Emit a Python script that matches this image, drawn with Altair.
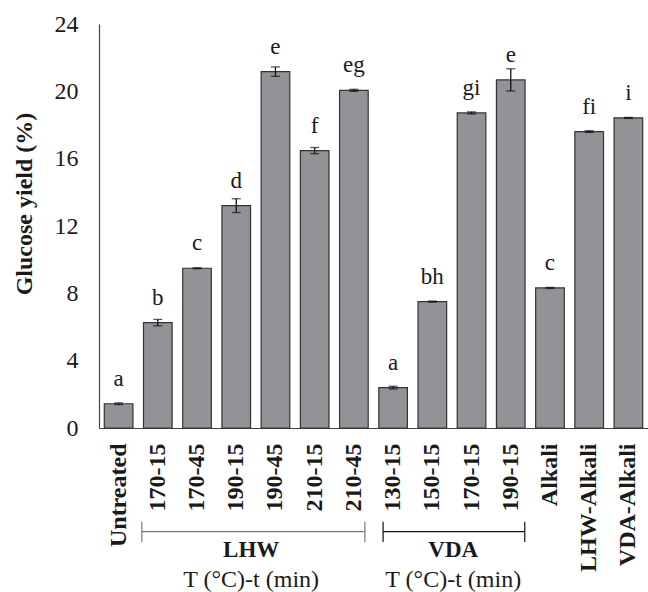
import altair as alt
import pandas as pd

# ---- data ----
groups = ["", "LHW", "LHW", "LHW", "LHW", "LHW", "LHW", "VDA", "VDA", "VDA", "VDA", "", "", ""]
conditions = ["Untreated", "170-15", "170-45", "190-15", "190-45", "210-15", "210-45",
              "130-15", "150-15", "170-15", "190-15", "Alkali", "LHW-Alkali", "VDA-Alkali"]
yields = [1.44, 6.26, 9.49, 13.21, 21.17, 16.48, 20.06, 2.40, 7.51, 18.72, 20.68, 8.32, 17.61, 18.42]
errors = [0.05, 0.19, 0.03, 0.41, 0.28, 0.18, 0.06, 0.08, 0.03, 0.06, 0.66, 0.03, 0.05, 0.03]
letters = ["a", "b", "c", "d", "e", "f", "eg", "a", "bh", "gi", "e", "c", "fi", "i"]
y_ticks = [0, 4, 8, 12, 16, 20, 24]

bracket_names = ["LHW", "VDA"]
bracket_first = ["LHW|170-15", "VDA|130-15"]
bracket_last = ["LHW|210-45", "VDA|190-15"]
bracket_mid = ["LHW|190-45", "VDA|170-15"]
bracket_sub = ["T (°C)-t (min)", "T (°C)-t (min)"]

keys = [f"{g}|{c}" for g, c in zip(groups, conditions)]
df = pd.DataFrame({"key": keys, "yield": yields, "err": errors, "letter": letters})
br = pd.DataFrame({"name": bracket_names, "first": bracket_first, "last": bracket_last,
                   "mid": bracket_mid, "sub": bracket_sub})

# ---- styles ----
FONT = "Liberation Serif"
INK = "#1a1a1a"
bracket_style = {
    "LHW": {"left": -16, "right": 11, "dx": -10, "color": "#7a7a7a"},
    "VDA": {"left": -10, "right": 14, "dx": -4, "color": "#111111"},
}

xscale = alt.Scale(domain=keys, paddingInner=0.27, paddingOuter=0.135)
xaxis = alt.Axis(title=None, labelExpr="split(datum.value, '|')[1]", labelAngle=270,
                 labelAlign="right", labelBaseline="middle", labelPadding=15,
                 labelFont=FONT, labelFontSize=24, labelFontWeight="bold", labelColor=INK,
                 ticks=False, tickSize=0, domainColor="#444444", domainWidth=1.2)
yscale = alt.Scale(domain=[0, 24], nice=False)
yaxis = alt.Axis(values=y_ticks, grid=False, ticks=False, tickSize=0, labelPadding=21,
                 labelFont=FONT, labelFontSize=24, labelColor=INK,
                 domainColor="#444444", domainWidth=1.2,
                 title="Glucose yield (%)", titleFont=FONT, titleFontSize=24,
                 titleFontWeight="bold", titleColor=INK, titleAngle=270,
                 titleAlign="center", titleBaseline="alphabetic", titleX=-68, titleY=179.5)


def xenc(field, **kw):
    return alt.X(f"{field}:N", sort=keys, scale=xscale, axis=xaxis, **kw)


def yenc(field):
    return alt.Y(f"{field}:Q", scale=yscale, axis=yaxis)


base = alt.Chart(df)

bars = base.mark_bar(fill="#929397", stroke="#333333", strokeWidth=1.2).encode(
    x=xenc("key"), y=yenc("yield"))

err = base.transform_calculate(
    lo="datum.yield - datum.err", hi="datum.yield + datum.err"
).mark_rule(color="#111111", strokeWidth=1.3).encode(
    x=xenc("key"), y=yenc("lo"), y2="hi:Q")

caps = base.transform_calculate(
    lo="datum.yield - datum.err", hi="datum.yield + datum.err"
).transform_fold(["lo", "hi"], as_=["end", "val"]).mark_tick(
    color="#111111", size=9, thickness=1.3).encode(x=xenc("key"), y=yenc("val"))

text = base.mark_text(font=FONT, fontSize=23, baseline="alphabetic", dy=-18, color=INK).encode(
    x=xenc("key"), y=yenc("yield"), text="letter:N")

layers = [bars, err, caps, text]

for name in bracket_names:
    st = bracket_style[name]
    b = alt.Chart(br).transform_filter(alt.datum.name == name)
    layers.append(b.mark_rule(color=st["color"], strokeWidth=1.2,
                              xOffset=st["left"], x2Offset=st["right"]).encode(
        x=xenc("first"), x2="last:N", y=alt.value(507.7)))
    layers.append(b.mark_rule(color=st["color"], strokeWidth=1.2, xOffset=st["left"]).encode(
        x=xenc("first"), y=alt.value(497.7), y2=alt.value(518)))
    layers.append(b.mark_rule(color=st["color"], strokeWidth=1.2, xOffset=st["right"]).encode(
        x=xenc("last"), y=alt.value(497.7), y2=alt.value(518)))
    layers.append(b.mark_text(font=FONT, fontSize=23, fontWeight="bold", color=INK,
                              baseline="middle", dx=st["dx"]).encode(
        x=xenc("mid", bandPosition=0), y=alt.value(525.5), text="name:N"))
    layers.append(b.mark_text(font=FONT, fontSize=24, color=INK,
                              baseline="middle", dx=st["dx"]).encode(
        x=xenc("mid", bandPosition=0), y=alt.value(556), text="sub:N"))

chart = alt.layer(*layers).properties(
    width=549, height=404,
    autosize=alt.AutoSizeParams(type="none"),
    padding={"left": 99, "top": 24, "right": 0, "bottom": 164},
    background="white",
).configure_view(strokeWidth=0)

chart.save("out.html", embed_options={"renderer": "svg", "actions": False})
